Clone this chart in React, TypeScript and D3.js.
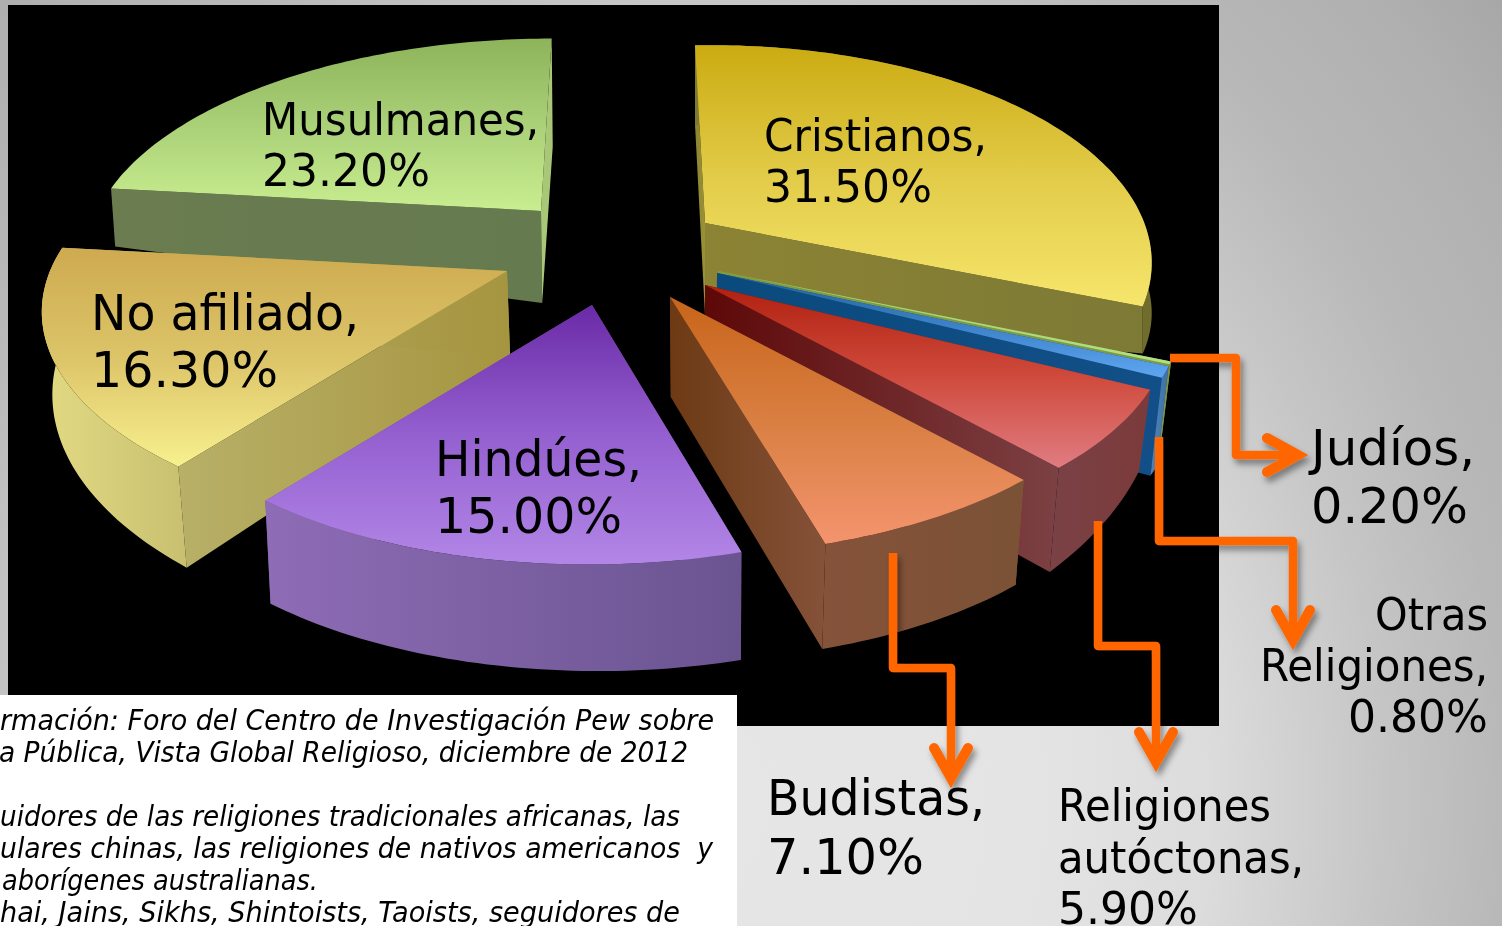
import React from "react";
import * as d3 from "d3";

const categories = ["Cristianos", "Judíos", "Otras Religiones", "Religiones autóctonas", "Budistas", "Hindúes", "No afiliado", "Musulmanes"];
const values = [31.5, 0.2, 0.8, 5.9, 7.1, 15.0, 16.3, 23.2];
const footnoteLines = [
  "rmación: Foro del Centro de Investigación Pew sobre",
  "a Pública, Vista Global Religioso, diciembre de 2012",
  "uidores de las religiones tradicionales africanas, las",
  "ulares chinas, las religiones de nativos americanos  y",
  "aborígenes australianas.",
  "hai, Jains, Sikhs, Shintoists, Taoists, seguidores de",
];

const A = 457, B = 211, K = 0.187, VANISH_X = 700;

type Look = {
  apex: [number, number]; sx: number; sy?: number; skew: number; shy?: number; vanish?: number; noRim?: boolean;
  hA: number; hS: number; hE: number; top: string[]; side: string[]; endSide?: string[]; rim: string[];
};
const looks: Look[] = [
  { apex: [705, 223], sx: 0.955, shy: -0.016, skew: 0.056, vanish: 0, hA: 92, hS: 80, hE: 47, top: ["#cbab12", "#e2cb48", "#f6e66c"], side: ["#8c8334", "#7d7a36"], endSide: ["#8a8430", "#9a9238"], rim: ["#7d7a36", "#6f6c2c"] },
  { apex: [718, 271], sx: 1, skew: 0, hA: 90, hS: 95, hE: 95, top: ["#9ccb6c", "#a8d878", "#b4e084"], side: ["#7f9a40", "#7f9a40"], rim: ["#8a9a50", "#7f9040"] },
  { apex: [717, 273], sx: 1, skew: 0, hA: 90, hS: 100, hE: 98, top: ["#1f5f96", "#3d82c8", "#5fa6f2"], side: ["#0a4a7c", "#124f88"], rim: ["#4f86c0", "#3f6f9f"] },
  { apex: [705, 285], sx: 1, skew: 0, hA: 100, hS: 82, hE: 104, top: ["#b0200f", "#cf4a3c", "#e07c82"], side: ["#5e0808", "#7c4144"], rim: ["#7a4246", "#7c3a3a"] },
  { apex: [670, 297], sx: 1, skew: 0, hA: 100, hS: 105, hE: 105, top: ["#c8641a", "#d97f42", "#f4946e"], side: ["#6d3a14", "#85523a"], rim: ["#85523a", "#7b5236"] },
  { apex: [592, 305], sx: 0.985, skew: -0.015, vanish: 0.012, hA: 100, hS: 108, hE: 103, top: ["#6a2aa6", "#9460d0", "#b286e6"], side: ["#6a4f8e", "#6a4f8e"], rim: ["#8e6cb6", "#6a5490"] },
  { apex: [507, 271], sx: 1, skew: 0, vanish: 0.016, hA: 85, hS: 101, hE: 75, top: ["#ceaa50", "#dcc468", "#f8f08e"], side: ["#b8b068", "#a69540"], rim: ["#e2da82", "#c8c070"] },
  { apex: [541, 211], sx: 0.97, sy: 0.97, skew: -0.062, vanish: 0.007, noRim: true, hA: 92, hS: 58, hE: 108, top: ["#8db45a", "#aad078", "#c9ee90"], side: ["#6a7c50", "#667a50"], endSide: ["#a8c878", "#a8c878"], rim: ["#b8dc80", "#a8cc70"] },
];
const paintOrder = [7, 0, 1, 2, 3, 4, 6, 5];

const arcs = d3.pie<number>().sort(null).value((d) => d)(values);

function point(look: Look, start: number, end: number, theta: number, r: number, z: number): [number, number] {
  const yw = r * Math.cos(theta);
  const xw = r * Math.sin(theta);
  const w = 1 + K * yw;
  const dy0 = ((-B * yw) / w) * (look.sy ?? 1);
  const dx0 = (A * look.sx * xw) / w;
  const dx = dx0 + look.skew * dy0;
  const dy = dy0 + (look.shy ?? 0) * dx0;
  const px = look.apex[0] + dx;
  const py = look.apex[1] + dy;
  const rimH = d3.scaleLinear().domain([start, end]).range([look.hS, look.hE])(theta);
  const h = look.hA + (rimH - look.hA) * r;
  return [px + (VANISH_X - px) * (look.vanish ?? 0.025) * z, py + h * z];
}

const line = d3.line<[number, number]>();

function rimPts(look: Look, a: number, b: number, z: number): [number, number][] {
  const n = Math.max(2, Math.ceil((b - a) / 0.02));
  return d3.range(n + 1).map((i) => point(look, a, b, a + ((b - a) * i) / n, 1, z));
}

type Row = { t: string; y: number; w: number };
const Label = ({ x, size, rows, anchor }: { x: number; size: number; rows: Row[]; anchor?: string }) => (
  <g fontFamily="'DejaVu Sans', sans-serif" fontSize={size} fill="#000">
    {rows.map((r, i) => (
      <text key={i} x={anchor === "end" ? x - r.w : x} y={r.y} textLength={r.w} lengthAdjust="spacingAndGlyphs">{r.t}</text>
    ))}
  </g>
);

const arrows = [
  { d: "M1170,358H1236V455H1292", head: "M1267,438L1298,455L1267,472" },
  { d: "M1159,437V541H1293V632", head: "M1276,610L1293,640L1310,610" },
  { d: "M1098,521V646H1156V755", head: "M1139,732L1156,762L1173,732" },
  { d: "M893,553V668H951V772", head: "M934,748L951,778L968,748" },
];

const bgStops: [number, string][] = [[0, "#e6e6e6"], [0.32, "#e4e4e4"], [0.48, "#dcdcdc"], [0.64, "#c6c6c6"], [0.76, "#b8b8b8"], [0.9, "#b0b0b0"], [1, "#a6a6a6"]];

export default function App() {
  return (
    <svg width={1502} height={926} style={{ position: "fixed", left: 0, top: 0, display: "block" }}>
      <defs>
        <radialGradient id="bg" gradientUnits="userSpaceOnUse" cx={0} cy={0} r={1} gradientTransform="translate(700,800) scale(1062,1250)">
          {bgStops.map(([o, c], i) => <stop key={i} offset={o} stopColor={c} />)}
        </radialGradient>
        <filter id="shadow" x="-30%" y="-30%" width="160%" height="160%">
          <feDropShadow dx="3" dy="5" stdDeviation="3" floodColor="#000" floodOpacity="0.4" />
        </filter>
        {looks.map((l, i) => (
          <React.Fragment key={i}>
            <linearGradient id={`top${i}`} x1="0" y1="0" x2="0" y2="1">
              {l.top.map((c, j) => <stop key={j} offset={j / (l.top.length - 1)} stopColor={c} />)}
            </linearGradient>
            <linearGradient id={`side${i}`} x1="0" y1="0" x2="1" y2="0">
              {l.side.map((c, j) => <stop key={j} offset={j} stopColor={c} />)}
            </linearGradient>
            <linearGradient id={`end${i}`} x1="0" y1="0" x2="1" y2="0">
              {(l.endSide ?? l.side).map((c, j) => <stop key={j} offset={j} stopColor={c} />)}
            </linearGradient>
            <linearGradient id={`rim${i}`} x1="0" y1="0" x2="1" y2="0">
              {l.rim.map((c, j) => <stop key={j} offset={j} stopColor={c} />)}
            </linearGradient>
          </React.Fragment>
        ))}
      </defs>
      <rect x={0} y={0} width={1502} height={926} fill="url(#bg)" />
      <rect x={8} y={5} width={1211} height={721} fill="#000" />

      {paintOrder.map((i) => {
        const look = looks[i];
        const a = arcs[i].startAngle;
        const b = arcs[i].endAngle;
        const apexT = point(look, a, b, a, 0, 0);
        const apexB = point(look, a, b, a, 0, 1);
        const wall = (t: number) => line([apexT, point(look, a, b, t, 1, 0), point(look, a, b, t, 1, 1), apexB]) + "Z";
        const rimTop = rimPts(look, a, b, 0);
        const rimBot = rimPts(look, a, b, 1).reverse();
        return (
          <g key={categories[i]}>
            <path d={wall(a)} fill={i === 0 ? `url(#end${i})` : `url(#side${i})`} />
            <path d={wall(b)} fill={i === 0 ? `url(#side${i})` : `url(#end${i})`} />
            {!look.noRim && <path d={line([...rimTop, ...rimBot]) + "Z"} fill={`url(#rim${i})`} />}
            <path d={line([apexT, ...rimTop]) + "Z"} fill={`url(#top${i})`} />
          </g>
        );
      })}

      <rect x={0} y={695} width={737} height={231} fill="#fff" />
      <g fontFamily="'DejaVu Sans', sans-serif" fontStyle="italic" fontSize={27.5} fill="#000">
        <text x={0} y={730} textLength={714} lengthAdjust="spacingAndGlyphs">{footnoteLines[0]}</text>
        <text x={-1} y={762} textLength={689} lengthAdjust="spacingAndGlyphs">{footnoteLines[1]}</text>
        <text x={0} y={826} textLength={680} lengthAdjust="spacingAndGlyphs">{footnoteLines[2]}</text>
        <text x={0} y={858} textLength={713} lengthAdjust="spacingAndGlyphs" xmlSpace="preserve">{footnoteLines[3]}</text>
        <text x={2} y={890} textLength={316} lengthAdjust="spacingAndGlyphs">{footnoteLines[4]}</text>
        <text x={0} y={922} textLength={680} lengthAdjust="spacingAndGlyphs">{footnoteLines[5]}</text>
      </g>

      <Label x={262} size={44} rows={[{ t: "Musulmanes,", y: 135, w: 277 }, { t: "23.20%", y: 186, w: 168 }]} />
      <Label x={764} size={44} rows={[{ t: "Cristianos,", y: 151, w: 223 }, { t: "31.50%", y: 202, w: 168 }]} />
      <Label x={91} size={49} rows={[{ t: "No afiliado,", y: 330, w: 268 }, { t: "16.30%", y: 387, w: 187 }]} />
      <Label x={435} size={49} rows={[{ t: "Hindúes,", y: 476, w: 207 }, { t: "15.00%", y: 533, w: 187 }]} />
      <Label x={1311} size={49} rows={[{ t: "Judíos,", y: 465, w: 164 }, { t: "0.20%", y: 523, w: 157 }]} />
      <Label x={1488} size={44} anchor="end" rows={[{ t: "Otras", y: 630, w: 113 }, { t: "Religiones,", y: 681, w: 228 }, { t: "0.80%", y: 732, w: 140 }]} />
      <Label x={767} size={49} rows={[{ t: "Budistas,", y: 815, w: 218 }, { t: "7.10%", y: 874, w: 157 }]} />
      <Label x={1058} size={44} rows={[{ t: "Religiones", y: 821, w: 213 }, { t: "autóctonas,", y: 873, w: 246 }, { t: "5.90%", y: 924, w: 140 }]} />

      <g fill="none" stroke="#ff6600" strokeWidth={8.5} strokeLinejoin="round" filter="url(#shadow)">
        {arrows.map((ar, i) => (
          <g key={i}>
            <path d={ar.d} />
            <path d={ar.head} strokeWidth={10} strokeLinecap="round" strokeLinejoin="miter" />
          </g>
        ))}
      </g>
    </svg>
  );
}
